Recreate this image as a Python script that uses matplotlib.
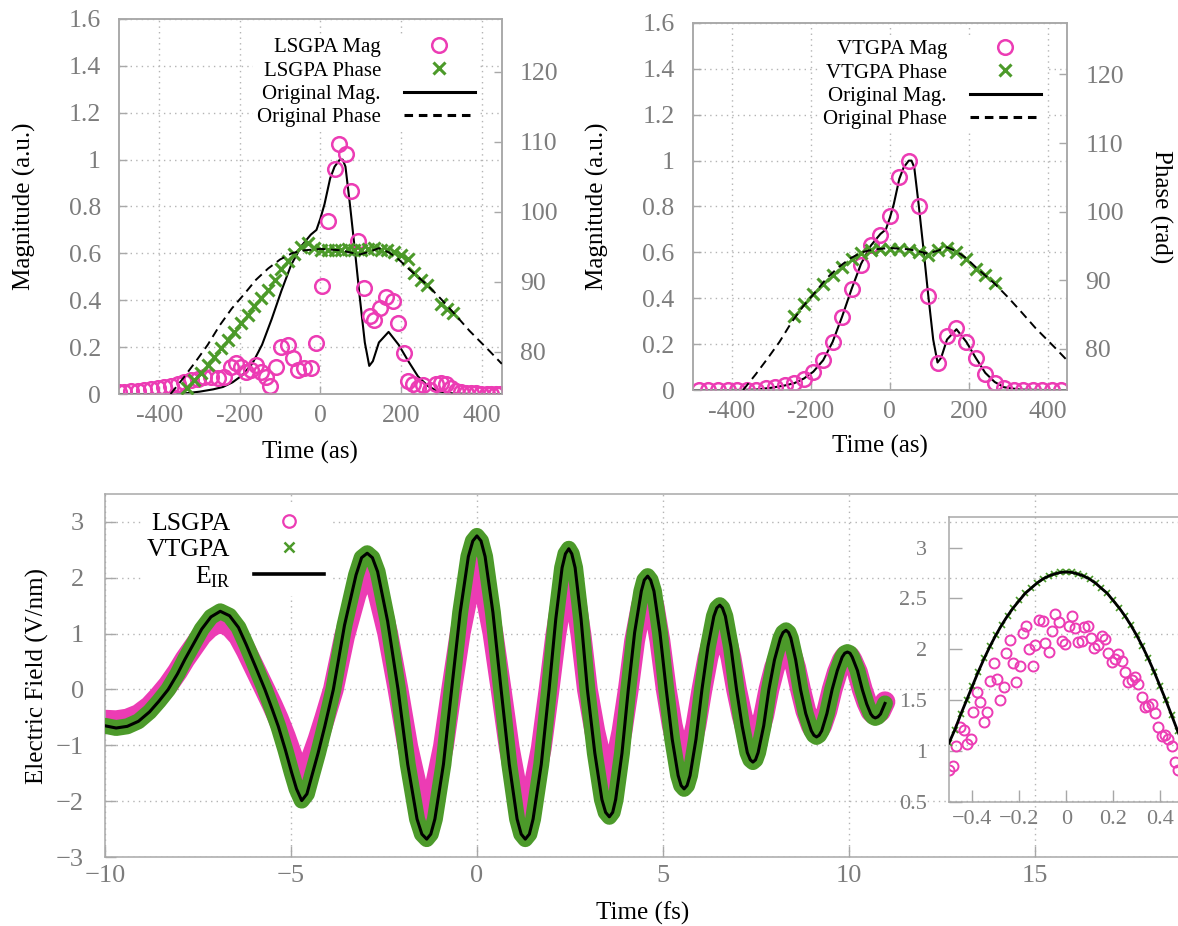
import matplotlib
matplotlib.use('Agg')
import matplotlib.pyplot as plt
from matplotlib.lines import Line2D
from matplotlib.ticker import FuncFormatter

plt.rcParams['font.family'] = ['Liberation Serif', 'DejaVu Serif']
plt.rcParams['mathtext.fontset'] = 'custom'
plt.rcParams['mathtext.rm'] = 'Liberation Serif'

PINK = '#ec3cb4'
GREEN = '#4c9a2a'
GRAY = '#7c7c7c'
SPINE = '#a8a8a8'
GRID = '#b4b4b4'

# ---- top panels: original pulse (shared by both panels), time in as
orig_t = [-500, -400, -340, -300, -266, -242, -218, -194, -169, -145,
          -121, -97, -73, -48, -24, -10, 0, 10, 24, 35,
          48, 55, 62, 73, 85, 97, 110, 121, 130, 145,
          169, 194, 218, 242, 266, 290, 330, 400, 450]
orig_mag = [0, 0, 0.002, 0.01, 0.02, 0.03, 0.05, 0.08, 0.13, 0.21,
            0.32, 0.44, 0.55, 0.63, 0.68, 0.70, 0.75, 0.81, 0.92, 0.97,
            1.0, 1.0, 0.97, 0.81, 0.62, 0.42, 0.22, 0.12, 0.14, 0.22,
            0.265, 0.21, 0.14, 0.075, 0.035, 0.012, 0.002, 0, 0]
phase_t = [-372, -340, -310, -280, -250, -220, -190, -160, -130, -100,
           -70, -40, 0, 50, 97, 121, 145, 170, 194, 218,
           242, 266, 300, 330, 370, 420, 450]
orig_phase = [74.0, 76.3, 78.6, 81.0, 83.8, 86.2, 88.2, 90.3, 91.9, 93.2,
              94.1, 94.5, 94.7, 94.5, 93.9, 94.3, 94.8, 94.2, 93.2, 91.9,
              90.7, 89.5, 87.5, 85.6, 83.0, 80.1, 78.3]

# LSGPA retrieval (top left)
lsgpa_mag_t = [-500, -487, -470, -454, -437, -421, -404, -388, -371, -354,
               -338, -321, -305, -288, -272, -255, -239, -222, -210, -197,
               -185, -172, -160, -147, -135, -125, -110, -98, -81, -69,
               -56, -40, -23, -10, 4, 18, 35, 47, 64, 76,
               93, 107, 122, 134, 148, 163, 180, 192, 207, 217,
               229, 242, 254, 271, 287, 300, 312, 325, 337, 349,
               362, 374, 387, 399, 412, 424, 436, 445]
lsgpa_mag = [0.01, 0.01, 0.013, 0.014, 0.017, 0.02, 0.024, 0.028, 0.034, 0.043,
             0.053, 0.06, 0.063, 0.071, 0.074, 0.067, 0.074, 0.117, 0.131, 0.117,
             0.096, 0.103, 0.124, 0.096, 0.074, 0.034, 0.117, 0.20, 0.21, 0.153,
             0.103, 0.11, 0.11, 0.217, 0.46, 0.737, 0.958, 1.065, 1.022, 0.866,
             0.652, 0.452, 0.334, 0.317, 0.366, 0.416, 0.395, 0.302, 0.177, 0.057,
             0.043, 0.024, 0.039, 0.017, 0.043, 0.048, 0.043, 0.024, 0.014, 0.01,
             0.006, 0.003, 0.003, 0, 0, 0, 0, 0]
lsgpa_phase_t = [-330, -313, -296, -280, -263, -247, -230, -214, -197, -181,
                 -164, -147, -131, -114, -98, -81, -65, -48, -31, -15,
                 2, 18, 35, 51, 68, 84, 100, 117, 133, 150,
                 166, 183, 199, 216, 232, 249, 265, 298, 314, 330]
lsgpa_phase = [74.9, 76.0, 77.0, 78.1, 79.3, 80.5, 81.7, 82.9, 84.1, 85.3,
               86.5, 87.7, 88.9, 90.3, 91.8, 93.0, 94.0, 95.0, 95.5, 94.9,
               94.6, 94.6, 94.5, 94.6, 94.7, 94.5, 94.6, 94.7, 94.8, 94.6,
               94.5, 94.3, 93.9, 93.2, 91.3, 90.3, 89.5, 86.8, 86.1, 85.5]

# VTGPA retrieval (top right)
vtgpa_t = [-484, -460, -435, -411, -387, -363, -339, -315, -290, -266,
           -242, -218, -194, -169, -145, -121, -97, -73, -48, -24,
           0, 24, 48, 73, 97, 121, 145, 169, 194, 218,
           242, 266, 290, 315, 339, 363, 387, 411, 435]
vtgpa_mag = [0, 0, 0, 0, 0, 0, 0, 0.007, 0.015, 0.02,
             0.03, 0.05, 0.08, 0.13, 0.21, 0.32, 0.44, 0.545, 0.63, 0.675,
             0.76, 0.93, 1.0, 0.80, 0.41, 0.12, 0.235, 0.27, 0.21, 0.14,
             0.07, 0.03, 0.01, 0, 0, 0, 0, 0, 0]
vtgpa_phase_t = [-242, -218, -194, -169, -145, -121, -97, -73, -48, -24,
                 0, 24, 48, 73, 97, 121, 145, 169, 194, 218, 242, 266]
vtgpa_phase = [84.8, 86.5, 88.0, 89.4, 90.8, 92.0, 93.1, 93.9, 94.4, 94.5,
               94.6, 94.5, 94.4, 94.1, 93.7, 94.4, 94.7, 94.1, 93.1, 91.7, 90.7, 89.6]

# ---- bottom panel: electric field, time in fs
field_t = [-10.0, -9.7, -9.4, -9.1, -8.8, -8.55, -8.3, -8.05, -7.85, -7.6,
           -7.4, -7.15, -6.9, -6.65, -6.41, -6.2, -5.96, -5.7, -5.5, -5.34,
           -5.15, -4.98, -4.85, -4.71, -4.57, -4.44, -4.27, -4.09, -3.86, -3.56,
           -3.25, -3.10, -2.95, -2.81, -2.67, -2.40, -2.12, -1.86, -1.61, -1.48,
           -1.35, -1.24, -1.13, -0.90, -0.68, -0.45, -0.23, -0.11, 0.0, 0.11,
           0.22, 0.43, 0.65, 0.87, 1.08, 1.19, 1.30, 1.41, 1.51, 1.73,
           1.94, 2.12, 2.29, 2.38, 2.47, 2.55, 2.64, 2.80, 2.97, 3.17,
           3.36, 3.46, 3.56, 3.65, 3.73, 3.90, 4.07, 4.24, 4.42, 4.50,
           4.59, 4.67, 4.76, 4.92, 5.09, 5.25, 5.41, 5.49, 5.57, 5.65,
           5.73, 5.89, 6.05, 6.21, 6.37, 6.45, 6.53, 6.60, 6.68, 6.83,
           6.98, 7.13, 7.27, 7.35, 7.42, 7.49, 7.56, 7.71, 7.85, 8.00,
           8.16, 8.23, 8.31, 8.38, 8.44, 8.57, 8.70, 8.84, 8.99, 9.06,
           9.13, 9.20, 9.27, 9.41, 9.55, 9.69, 9.82, 9.89, 9.96, 10.03,
           10.09, 10.23, 10.36, 10.48, 10.59, 10.65, 10.71, 10.78, 10.85, 10.97]
ir_field = [-0.65, -0.69, -0.66, -0.57, -0.40, -0.21, 0.0, 0.28, 0.54, 0.84,
            1.08, 1.30, 1.40, 1.32, 1.11, 0.80, 0.42, 0.0, -0.36, -0.66,
            -1.08, -1.49, -1.78, -1.99, -1.87, -1.55, -1.14, -0.66, 0.0, 1.15,
            2.05, 2.36, 2.44, 2.36, 2.11, 1.22, 0.0, -1.34, -2.32, -2.59,
            -2.68, -2.59, -2.32, -1.34, 0.0, 1.38, 2.38, 2.66, 2.75, 2.66,
            2.38, 1.38, 0.0, -1.34, -2.32, -2.59, -2.68, -2.59, -2.32, -1.34,
            0.0, 1.26, 2.18, 2.43, 2.52, 2.43, 2.18, 1.26, 0.0, -1.14,
            -1.97, -2.20, -2.28, -2.20, -1.97, -1.14, 0.0, 1.02, 1.76, 1.96,
            2.03, 1.96, 1.76, 1.02, 0.0, -0.89, -1.54, -1.72, -1.78, -1.72,
            -1.54, -0.89, 0.0, 0.76, 1.31, 1.46, 1.51, 1.46, 1.31, 0.76,
            0.0, -0.65, -1.13, -1.26, -1.30, -1.26, -1.13, -0.65, 0.0, 0.53,
            0.92, 1.02, 1.06, 1.02, 0.92, 0.53, 0.0, -0.43, -0.74, -0.82,
            -0.85, -0.82, -0.74, -0.43, 0.0, 0.34, 0.58, 0.65, 0.67, 0.65,
            0.58, 0.34, 0.0, -0.26, -0.44, -0.49, -0.51, -0.49, -0.44, -0.25]
# VTGPA sits on top of E_IR at this scale
vtgpa_field = ir_field
# LSGPA: middle of the magenta cloud (lower amplitude than E_IR)
lsgpa_field = [-0.55, -0.56, -0.53, -0.45, -0.30, -0.12, 0.08, 0.32, 0.54, 0.78,
               0.97, 1.13, 1.20, 1.13, 0.95, 0.69, 0.36, 0.0, -0.28, -0.52,
               -0.84, -1.16, -1.39, -1.55, -1.46, -1.21, -0.89, -0.51, 0.0, 0.95,
               1.70, 1.96, 2.03, 1.96, 1.75, 1.01, 0.0, -1.02, -1.76, -1.97,
               -2.04, -1.97, -1.76, -1.02, 0.0, 1.01, 1.74, 1.94, 2.0, 1.94,
               1.74, 1.01, 0.0, -1.05, -1.81, -2.02, -2.09, -2.02, -1.81, -1.05,
               0.0, 0.97, 1.68, 1.87, 1.94, 1.87, 1.68, 0.97, 0.0, -0.75,
               -1.30, -1.45, -1.50, -1.45, -1.30, -0.75, 0.0, 0.87, 1.50, 1.67,
               1.73, 1.67, 1.50, 0.87, 0.0, -0.64, -1.11, -1.24, -1.28, -1.24,
               -1.11, -0.64, 0.0, 0.57, 0.98, 1.10, 1.13, 1.10, 0.98, 0.57,
               0.0, -0.47, -0.81, -0.91, -0.94, -0.91, -0.81, -0.47, 0.0, 0.39,
               0.67, 0.74, 0.77, 0.74, 0.67, 0.39, 0.0, -0.38, -0.65, -0.72,
               -0.75, -0.72, -0.65, -0.38, 0.0, 0.31, 0.52, 0.59, 0.60, 0.59,
               0.52, 0.31, 0.0, -0.23, -0.39, -0.43, -0.45, -0.43, -0.39, -0.22]

# inset around the main peak
inset_t = [-0.5, -0.475, -0.45, -0.425, -0.4, -0.375, -0.35, -0.325, -0.3, -0.275,
           -0.25, -0.225, -0.2, -0.175, -0.15, -0.125, -0.1, -0.075, -0.05, -0.025,
           0.0, 0.025, 0.05, 0.075, 0.1, 0.125, 0.15, 0.175, 0.2, 0.225,
           0.25, 0.275, 0.3, 0.325, 0.35, 0.375, 0.4, 0.425, 0.45, 0.475, 0.5]
inset_ir = [1.08, 1.21, 1.36, 1.50, 1.64, 1.78, 1.91, 2.03, 2.14, 2.24,
            2.33, 2.41, 2.48, 2.55, 2.60, 2.65, 2.69, 2.72, 2.74, 2.755,
            2.76, 2.755, 2.74, 2.72, 2.69, 2.65, 2.60, 2.55, 2.48, 2.41,
            2.33, 2.24, 2.14, 2.03, 1.91, 1.78, 1.64, 1.50, 1.35, 1.20, 1.06]
inset_vtgpa = inset_ir
inset_ls_t = [-0.500, -0.484, -0.468, -0.451, -0.434, -0.423, -0.408, -0.397, -0.380, -0.366,
              -0.350, -0.336, -0.324, -0.309, -0.295, -0.281, -0.265, -0.255, -0.238, -0.227,
              -0.214, -0.197, -0.186, -0.172, -0.160, -0.142, -0.132, -0.118, -0.101, -0.089,
              -0.074, -0.060, -0.047, -0.032, -0.020, -0.004, 0.010, 0.024, 0.038, 0.052,
              0.067, 0.078, 0.092, 0.106, 0.120, 0.135, 0.152, 0.166, 0.180, 0.194,
              0.208, 0.223, 0.237, 0.251, 0.265, 0.279, 0.293, 0.308, 0.322, 0.336,
              0.350, 0.364, 0.379, 0.393, 0.407, 0.421, 0.435, 0.452, 0.466, 0.478]
inset_ls = [0.815, 0.85, 1.05, 1.24, 1.21, 1.07, 1.12, 1.38, 1.58, 1.48,
            1.29, 1.38, 1.69, 1.87, 1.71, 1.50, 1.63, 1.96, 2.09, 1.87,
            1.68, 1.84, 2.16, 2.23, 2.00, 1.84, 2.04, 2.29, 2.28, 2.06,
            1.97, 2.18, 2.35, 2.27, 2.08, 2.05, 2.23, 2.33, 2.21, 2.07,
            2.08, 2.22, 2.23, 2.11, 2.01, 2.04, 2.13, 2.10, 1.96, 1.88,
            1.90, 1.95, 1.89, 1.78, 1.68, 1.70, 1.73, 1.66, 1.53, 1.43,
            1.44, 1.46, 1.37, 1.24, 1.15, 1.16, 1.12, 1.05, 0.89, 0.81]

gfmt = FuncFormatter(lambda v, p: '%g' % v)
mfmt = FuncFormatter(lambda v, p: ('%g' % v).replace('-', '\u2212'))
DOT = (0, (1, 3))


def grey_frame(ax):
    for s in ax.spines.values():
        s.set_color(SPINE)
        s.set_linewidth(1.1)


def top_panel(rect, mag_t, mag, ph_t, ph, name, right_label, leg_y):
    ax = fig.add_axes(rect)
    axp = ax.twinx()
    ax.set_xlim(-500, 450)
    ax.set_ylim(0, 1.6)
    axp.set_ylim(74, 127.5)
    ax.set_xticks([-400, -200, 0, 200, 400])
    ax.set_yticks([0, 0.2, 0.4, 0.6, 0.8, 1.0, 1.2, 1.4, 1.6])
    axp.set_yticks([80, 90, 100, 110, 120])
    ax.xaxis.set_major_formatter(gfmt)
    ax.yaxis.set_major_formatter(gfmt)
    ax.grid(True, color=GRID, linestyle=DOT, linewidth=1.0)
    grey_frame(ax)
    grey_frame(axp)
    ax.tick_params(direction='in', length=6, width=1, color=SPINE,
                   labelcolor=GRAY, labelsize=18.5)
    ax.tick_params(axis='y', pad=13)
    ax.tick_params(axis='x', pad=8)
    axp.tick_params(direction='in', length=6, width=1, color=SPINE,
                    labelcolor=GRAY, labelsize=18.5, pad=13)

    ax.plot(orig_t, orig_mag, color='black', lw=1.5, zorder=3)
    m1, = ax.plot(mag_t, mag, 'o', mfc='none', mec=PINK, ms=10.5, mew=1.8, zorder=4)
    m2, = axp.plot(ph_t, ph, 'x', color=GREEN, ms=8, mew=2.2, zorder=4)
    axp.plot(phase_t, orig_phase, color='black', lw=1.4, dashes=(4.5, 2.8), zorder=5)

    h = [m1, m2,
         Line2D([], [], color='black', lw=2.2),
         Line2D([], [], color='black', lw=2.2, dashes=(2.8, 1.9))]
    lab = [name + ' Mag', name + ' Phase', 'Original Mag.', 'Original Phase']
    leg = axp.legend(h, lab, loc='upper right', bbox_to_anchor=(0.94, leg_y),
                     fontsize=15, markerfirst=False, frameon=True, fancybox=False,
                     facecolor='white', edgecolor='none', framealpha=1,
                     borderpad=0.2, borderaxespad=0, labelspacing=0.18,
                     handlelength=3.4, handletextpad=1.1, numpoints=1)
    leg.set_zorder(10)

    ax.set_xlabel('Time (as)', fontsize=18, va='center')
    ax.xaxis.set_label_coords(0.5, -0.155)
    ax.set_ylabel('Magnitude (a.u.)', fontsize=18, va='center', ha='center')
    if right_label:
        axp.set_ylabel('Phase (rad)', fontsize=18, rotation=-90, va='center', ha='center')
    return ax, axp


fig = plt.figure(figsize=(11.78, 9.26), dpi=100)

ax1, ax1p = top_panel([0.101, 0.5745, 0.325, 0.405], lsgpa_mag_t, lsgpa_mag,
                      lsgpa_phase_t, lsgpa_phase, 'LSGPA', False, 0.961)
ax1.yaxis.set_label_coords(-0.248, 0.5)

ax2, ax2p = top_panel([0.588, 0.5788, 0.318, 0.3964], vtgpa_t, vtgpa_mag,
                      vtgpa_phase_t, vtgpa_phase, 'VTGPA', True, 0.966)
ax2.yaxis.set_label_coords(-0.255, 0.5)
ax2p.yaxis.set_label_coords(1.248, 0.5)

# ---- bottom panel
ax3 = fig.add_axes([0.0891, 0.0745, 0.922, 0.392])
ax3.set_xlim(-10, 19.2)
ax3.set_ylim(-3, 3.5)
ax3.set_xticks([-10, -5, 0, 5, 10, 15])
ax3.set_yticks([-3, -2, -1, 0, 1, 2, 3])
ax3.xaxis.set_major_formatter(mfmt)
ax3.yaxis.set_major_formatter(mfmt)
ax3.grid(True, color=GRID, linestyle=DOT, linewidth=1.0)
grey_frame(ax3)
ax3.tick_params(direction='in', length=8, width=1, color=SPINE,
                labelcolor=GRAY, labelsize=19)
ax3.tick_params(axis='y', pad=15)
ax3.tick_params(axis='x', pad=6)

ax3.plot(field_t, lsgpa_field, color=PINK, lw=15, solid_joinstyle='round',
         solid_capstyle='round', zorder=2)
ax3.fill_between(field_t, lsgpa_field, ir_field, color=PINK, lw=0, zorder=2)
ax3.plot(field_t, vtgpa_field, color=GREEN, lw=11.5, solid_joinstyle='round',
         solid_capstyle='round', zorder=3)
ax3.plot(field_t, ir_field, color='black', lw=2.2, zorder=4)

hb = [Line2D([], [], ls='none', marker='o', mfc='none', mec=PINK, ms=9, mew=1.6),
      Line2D([], [], ls='none', marker='x', color=GREEN, ms=7, mew=1.8),
      Line2D([], [], color='black', lw=2.6)]
legb = ax3.legend(hb, ['LSGPA', 'VTGPA', r'E$_{\mathrm{IR}}$'], loc='upper right',
                  bbox_to_anchor=(0.208, 0.968), fontsize=18.5, markerfirst=False,
                  frameon=True, fancybox=False, facecolor='white', edgecolor='none',
                  framealpha=1, borderpad=0.25, borderaxespad=0, labelspacing=0.12,
                  handlelength=2.75, handletextpad=0.9, numpoints=1)
legb.set_zorder(10)

ax3.set_xlabel('Time (fs)', fontsize=18, va='center')
ax3.xaxis.set_label_coords(0.495, -0.154)
ax3.set_ylabel('Electric Field (V/nm)', fontsize=18, va='center', ha='center')
ax3.yaxis.set_label_coords(-0.0617, 0.5)

# ---- inset
axi = fig.add_axes([0.8056, 0.1339, 0.199, 0.3078])
axi.patch.set_alpha(0)
axi.set_xlim(-0.5, 0.5)
axi.set_ylim(0.5, 3.3)
axi.set_xticks([-0.4, -0.2, 0, 0.2, 0.4])
axi.set_yticks([0.5, 1, 1.5, 2, 2.5, 3])
axi.xaxis.set_major_formatter(mfmt)
axi.yaxis.set_major_formatter(mfmt)
grey_frame(axi)
axi.spines['right'].set_visible(False)
axi.tick_params(direction='in', length=9, width=1, color=SPINE,
                labelcolor=GRAY, labelsize=16)
axi.tick_params(axis='y', pad=16)
axi.tick_params(axis='x', pad=6)
axi.plot(inset_ls_t, inset_ls, 'o', mfc='none', mec=PINK, ms=7.2, mew=1.4, zorder=2)
axi.plot(inset_t, inset_vtgpa, 'x', color=GREEN, ms=4.5, mew=1.2, zorder=3)
axi.plot(inset_t, inset_ir, color='black', lw=2.0, zorder=4)

fig.savefig('out.png', dpi=100)
